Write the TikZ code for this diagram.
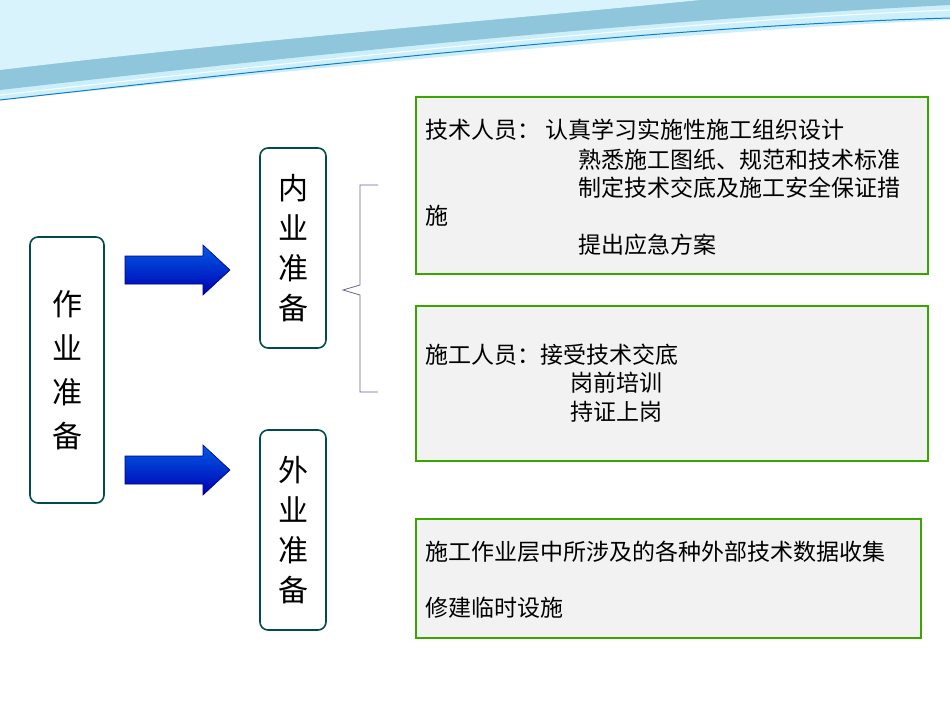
\documentclass[tikz,border=0pt]{standalone}
\usepackage{fontspec}
\newfontfamily\cjk{Noto Sans CJK SC}
\begin{document}
\begin{tikzpicture}[x=1pt,y=-1pt,
  tealbox/.style={draw=teal!60!black,line width=1.6pt,rounded corners=8pt,fill=white},
  greenbox/.style={draw=green!50!black!70!lime,line width=1.6pt,fill=gray!10},
  arrowfill/.style={draw=blue!50!black,line width=0.6pt,top color=blue!60!cyan!90!black,bottom color=blue!70!black},
  txt/.style={anchor=west,inner sep=0pt,font=\cjk\fontsize{23}{26}\selectfont}]
\useasboundingbox (0,0) rectangle (950,713);
\fill[white] (0,0) rectangle (950,713);
% waves
\fill[cyan!20] (0,0) -- (950,0) -- (950,20) .. controls (700,30) and (400,60) .. (0,100) -- cycle;
\fill[cyan!45!teal!50] (0,0) -- (950,0) -- (950,5) .. controls (650,20) and (350,50) .. (0,90) -- cycle;
\fill[cyan!15] (0,0) -- (700,0) .. controls (500,20) and (250,40) .. (0,70) -- cycle;
\draw[cyan!60!blue,line width=1pt] (0,100) .. controls (400,55) and (700,25) .. (950,18);
\draw[white,line width=1pt] (0,95) .. controls (400,50) and (700,20) .. (950,10);
% boxes
\node[tealbox,minimum width=74pt,minimum height=266pt] (zy) at (67,370) {};
\node[font=\cjk\fontsize{30}{44}\selectfont,align=center] (zyt) at (zy) {作\\业\\准\\备};
\node[tealbox,minimum width=66pt,minimum height=200pt] (ny) at (293,248) {};
\node[font=\cjk\fontsize{30}{40}\selectfont,align=center] (nyt) at (ny) {内\\业\\准\\备};
\node[tealbox,minimum width=66pt,minimum height=200pt] (wy) at (293,530) {};
\node[font=\cjk\fontsize{30}{40}\selectfont,align=center] (wyt) at (wy) {外\\业\\准\\备};
\coordinate (a1) at (125,270);
\coordinate (a2) at (125,470);
\foreach \a in {a1,a2}
  \draw[arrowfill] ([yshift=14pt]\a) -- ++(78,0) -- ++(0,-11) -- ++(27,25) -- ++(-27,25) -- ++(0,-11) -- ++(-78,0) -- cycle;
% brace
\draw[gray!80!blue,line width=0.8pt] (378,185) -- (360,185) -- (360,285) -- (343,290) -- (360,295) -- (360,392) -- (378,392);
% green boxes
\node[greenbox,minimum width=512pt,minimum height=177pt,anchor=north west] (g1) at (415,96) {};
\node[greenbox,minimum width=512pt,minimum height=155pt,anchor=north west] (g2) at (415,305) {};
\node[greenbox,minimum width=505pt,minimum height=119pt,anchor=north west] (g3) at (415,518) {};
\node[txt] (t1) at (425,130) {技术人员：\ 认真学习实施性施工组织设计};
\node[txt] (t2) at (578,160) {熟悉施工图纸、规范和技术标准};
\node[txt] (t3) at (578,188) {制定技术交底及施工安全保证措};
\node[txt] (t4) at (425,216) {施};
\node[txt] (t5) at (578,245) {提出应急方案};
\node[txt] (s1) at (425,355) {施工人员：接受技术交底};
\node[txt] (s2) at (570,383) {岗前培训};
\node[txt] (s3) at (570,412) {持证上岗};
\node[txt] (w1) at (425,552) {施工作业层中所涉及的各种外部技术数据收集};
\node[txt] (w2) at (425,608) {修建临时设施};
\end{tikzpicture}
\end{document}
